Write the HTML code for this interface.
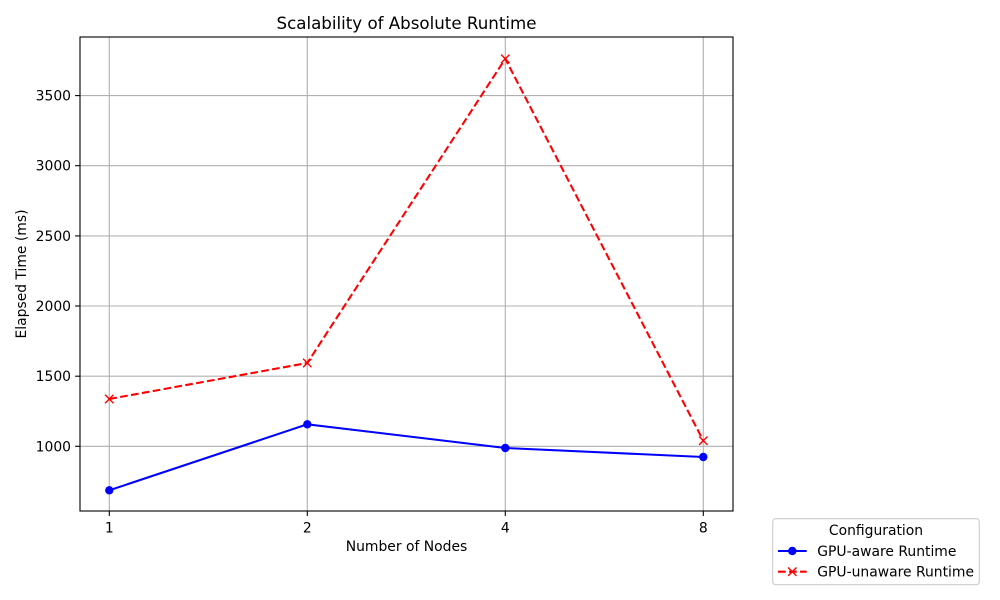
<!DOCTYPE html>
<html><head><meta charset="utf-8"><style>
html,body{margin:0;padding:0;background:#fff;}
svg{display:block;font-family:"DejaVu Sans","Liberation Sans",sans-serif;}
</style></head><body>
<svg width="1000" height="600" viewBox="0 0 1000 600" xmlns="http://www.w3.org/2000/svg">
<rect width="1000" height="600" fill="#fff"/>
<g stroke="#b0b0b0" stroke-width="1.1">
<line x1="109.3" y1="37" x2="109.3" y2="511"/>
<line x1="307.3" y1="37" x2="307.3" y2="511"/>
<line x1="505.3" y1="37" x2="505.3" y2="511"/>
<line x1="703.3" y1="37" x2="703.3" y2="511"/>
<line x1="80" y1="446.3" x2="733" y2="446.3"/>
<line x1="80" y1="376.2" x2="733" y2="376.2"/>
<line x1="80" y1="306" x2="733" y2="306"/>
<line x1="80" y1="235.9" x2="733" y2="235.9"/>
<line x1="80" y1="165.7" x2="733" y2="165.7"/>
<line x1="80" y1="95.6" x2="733" y2="95.6"/>
</g>
<!-- red dashed -->
<polyline points="109.3,399 307.3,363 505.3,58.8 703.3,440.7" fill="none" stroke="#ff0000" stroke-width="2.08" stroke-dasharray="7.7,3.33"/>
<g stroke="#ff0000" stroke-width="1.4">
<path d="M105.1,394.8 L113.5,403.2 M105.1,403.2 L113.5,394.8"/>
<path d="M303.1,358.8 L311.5,367.2 M303.1,367.2 L311.5,358.8"/>
<path d="M501.1,54.6 L509.5,63 M501.1,63 L509.5,54.6"/>
<path d="M699.1,436.5 L707.5,444.9 M699.1,444.9 L707.5,436.5"/>
</g>
<!-- blue -->
<polyline points="109.3,490.3 307.3,424.3 505.3,448 703.3,457" fill="none" stroke="#0000ff" stroke-width="2.08"/>
<g fill="#0000ff">
<circle cx="109.3" cy="490.3" r="4.2"/>
<circle cx="307.3" cy="424.3" r="4.2"/>
<circle cx="505.3" cy="448" r="4.2"/>
<circle cx="703.3" cy="457" r="4.2"/>
</g>
<!-- axes -->
<rect x="80" y="37" width="653" height="474" fill="none" stroke="#000" stroke-width="1.1"/>
<g stroke="#000" stroke-width="1.1">
<line x1="109.3" y1="511" x2="109.3" y2="515.9"/>
<line x1="307.3" y1="511" x2="307.3" y2="515.9"/>
<line x1="505.3" y1="511" x2="505.3" y2="515.9"/>
<line x1="703.3" y1="511" x2="703.3" y2="515.9"/>
<line x1="75.1" y1="446.3" x2="80" y2="446.3"/>
<line x1="75.1" y1="376.2" x2="80" y2="376.2"/>
<line x1="75.1" y1="306" x2="80" y2="306"/>
<line x1="75.1" y1="235.9" x2="80" y2="235.9"/>
<line x1="75.1" y1="165.7" x2="80" y2="165.7"/>
<line x1="75.1" y1="95.6" x2="80" y2="95.6"/>
</g>
<g font-size="13.9" fill="#000">
<g text-anchor="middle">
<text x="109.3" y="532.5">1</text>
<text x="307.3" y="532.5">2</text>
<text x="505.3" y="532.5">4</text>
<text x="703.3" y="532.5">8</text>
</g>
<g text-anchor="end">
<text x="71" y="451.3">1000</text>
<text x="71" y="381.2">1500</text>
<text x="71" y="311">2000</text>
<text x="71" y="240.9">2500</text>
<text x="71" y="170.7">3000</text>
<text x="71" y="100.6">3500</text>
</g>
<text x="406.5" y="551" text-anchor="middle">Number of Nodes</text>
<text transform="translate(26,274) rotate(-90)" text-anchor="middle">Elapsed Time (ms)</text>
</g>
<text x="406.5" y="29" text-anchor="middle" font-size="16.67">Scalability of Absolute Runtime</text>
<!-- legend -->
<rect x="772.7" y="518.7" width="206.6" height="66" rx="3" fill="#fff" fill-opacity="0.8" stroke="#cccccc" stroke-width="1.1"/>
<text x="876" y="535" text-anchor="middle" font-size="13.9">Configuration</text>
<line x1="778" y1="551" x2="806.7" y2="551" stroke="#0000ff" stroke-width="2.08"/>
<circle cx="792.3" cy="551" r="4.2" fill="#0000ff"/>
<text x="817.3" y="556" font-size="13.9">GPU-aware Runtime</text>
<line x1="778" y1="571.7" x2="806.7" y2="571.7" stroke="#ff0000" stroke-width="2.08" stroke-dasharray="7.7,3.33"/>
<path d="M788.1,567.5 L796.5,575.9 M788.1,575.9 L796.5,567.5" stroke="#ff0000" stroke-width="1.4"/>
<text x="817.3" y="576.7" font-size="13.9">GPU-unaware Runtime</text>
</svg>
</body></html>
